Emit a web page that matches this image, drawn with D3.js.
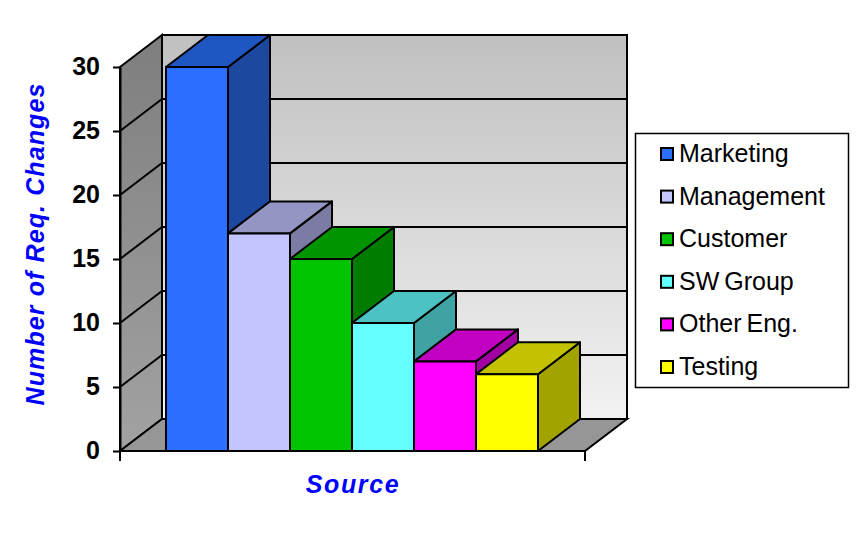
<!DOCTYPE html>
<html><head><meta charset="utf-8">
<script src="https://cdn.jsdelivr.net/npm/d3@7"></script>
<style>html,body{margin:0;padding:0;background:#fff}svg{display:block}text{font-family:"Liberation Sans",Arial,sans-serif}</style>
</head><body><svg id="c" width="864" height="537"></svg>
<script>
const categories = ["Marketing","Management","Customer","SW Group","Other Eng.","Testing"];
const values = [30,17,15,10,7,6];
const frontColors = ["#2a6fff","#c4c4ff","#00c400","#66ffff","#ff00ff","#ffff00"];
const topColors = ["#1f57c2","#9595c4","#009500","#4dc2c2","#c200c2","#c2c200"];
const sideColors = ["#1c48a0","#7b7ba3","#007c00","#40a3a3","#a300a3","#a3a300"];
const yTicks = [0,5,10,15,20,25,30];
const xTitle = "Source", yTitle = "Number of Req. Changes";

const svg = d3.select("#c");
const y = d3.scaleLinear().domain([0,30]).range([451,67]);
const x = d3.scaleBand().domain(categories).range([166,538]);
const X0 = 120, X1 = 585, DX = 42, DY = -32;
const poly = pts => pts.map(p=>p.join(",")).join(" ");
const defs = svg.append("defs");
function grad(id,c0,c1){
  const g = defs.append("linearGradient").attr("id",id).attr("x1",0).attr("x2",0).attr("y1",0).attr("y2",1);
  g.append("stop").attr("offset",0).attr("stop-color",c0);
  g.append("stop").attr("offset",1).attr("stop-color",c1);
}
grad("back","#c0c0c0","#f2f2f2");
grad("left","#7e7e7e","#a2a2a2");

const ink = "#000";
// walls
svg.append("polygon").attr("points",poly([[X0+DX,y(30)+DY],[X1+DX,y(30)+DY],[X1+DX,y(0)+DY],[X0+DX,y(0)+DY]]))
  .attr("fill","url(#back)").attr("stroke",ink).attr("stroke-width",2);
svg.append("polygon").attr("points",poly([[X0,y(30)],[X0+DX,y(30)+DY],[X0+DX,y(0)+DY],[X0,y(0)]]))
  .attr("fill","url(#left)").attr("stroke",ink).attr("stroke-width",2);
svg.append("polygon").attr("points",poly([[X0,y(0)],[X0+DX,y(0)+DY],[X1+DX,y(0)+DY],[X1,y(0)]]))
  .attr("fill","#969696").attr("stroke",ink).attr("stroke-width",2);
// gridlines
svg.append("g").selectAll("path").data(yTicks.slice(1,-1)).join("path")
  .attr("d",d=>`M${X0},${y(d)}L${X0+DX},${y(d)+DY}L${X1+DX},${y(d)+DY}`)
  .attr("fill","none").attr("stroke",ink).attr("stroke-width",2);

// bars
const bars = svg.append("g").selectAll("g").data(categories.map((c,i)=>({c,v:values[i],i}))).join("g")
  .attr("stroke",ink).attr("stroke-width",2).attr("stroke-linejoin","round");
bars.append("polygon").attr("points",d=>{const r=x(d.c)+x.bandwidth();return poly([[r,y(d.v)],[r+DX,y(d.v)+DY],[r+DX,y(0)+DY],[r,y(0)]]);})
  .attr("fill",d=>sideColors[d.i]);
bars.append("polygon").attr("points",d=>{const l=x(d.c),r=l+x.bandwidth();return poly([[l,y(d.v)],[l+DX,y(d.v)+DY],[r+DX,y(d.v)+DY],[r,y(d.v)]]);})
  .attr("fill",d=>topColors[d.i]);
bars.append("rect").attr("x",d=>x(d.c)).attr("y",d=>y(d.v)).attr("width",x.bandwidth()).attr("height",d=>y(0)-y(d.v))
  .attr("fill",d=>frontColors[d.i]);

// axes
const ax = svg.append("g").attr("transform",`translate(${X0},0)`)
  .call(d3.axisLeft(y).tickValues(yTicks).tickSize(7).tickSizeOuter(0).tickPadding(13));
ax.select(".domain").attr("stroke",ink).attr("stroke-width",2);
ax.selectAll("line").attr("stroke",ink).attr("stroke-width",2);
ax.selectAll("text").style("font-family",'"Liberation Sans",Arial,sans-serif').style("font-size","25px").style("font-weight","bold").attr("fill",ink).attr("dy","0.3em");
svg.append("path").attr("d",`M${X0},451V461M${X1},451V461M${X0},451H${X1}`).attr("stroke",ink).attr("stroke-width",2).attr("fill","none");

// titles
svg.append("text").attr("x",353).attr("y",493).attr("text-anchor","middle")
  .attr("fill","#0000ff").style("font-size","25px").style("font-weight","bold").style("font-style","italic").style("letter-spacing","1.6px").text(xTitle);
svg.append("text").attr("transform","translate(44,244) rotate(-90)").attr("text-anchor","middle")
  .attr("fill","#0000ff").style("font-size","25px").style("font-weight","bold").style("font-style","italic").style("letter-spacing","1.1px").text(yTitle);

// legend
svg.append("rect").attr("x",635.5).attr("y",133.5).attr("width",213).attr("height",254).attr("fill","#fff").attr("stroke",ink).attr("stroke-width",1.5);
const ly = d3.scalePoint().domain(categories).range([154,367]);
const lg = svg.append("g").selectAll("g").data(categories).join("g").attr("transform",d=>`translate(0,${ly(d)})`);
lg.append("rect").attr("x",661).attr("y",-6).attr("width",12).attr("height",12)
  .attr("fill",(d,i)=>frontColors[i]).attr("stroke",ink).attr("stroke-width",2);
lg.append("text").attr("x",679).attr("y",8).attr("fill",ink).style("font-size","25px").style("word-spacing","-2px").text(d=>d);
</script></body></html>
